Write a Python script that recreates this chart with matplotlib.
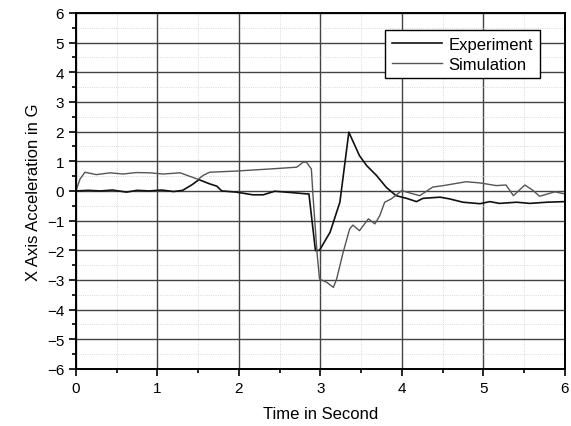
import matplotlib
matplotlib.use('Agg')
import matplotlib.pyplot as plt
from matplotlib.ticker import MultipleLocator

# Experiment trace (time in s, acceleration in G)
exp_t = [0.0, 0.15, 0.3, 0.45, 0.62, 0.75, 0.9, 1.05, 1.2, 1.31, 1.42, 1.51,
         1.64, 1.73, 1.79, 1.97, 2.17, 2.30, 2.44, 2.58, 2.71, 2.83, 2.86,
         2.94, 2.99, 3.12, 3.24, 3.35, 3.48, 3.57, 3.69, 3.81, 3.93, 4.06,
         4.18, 4.26, 4.47, 4.59, 4.75, 4.96, 5.08, 5.20, 5.41, 5.57, 5.78, 6.0]
exp_g = [0.0, 0.02, 0.0, 0.03, -0.04, 0.02, 0.0, 0.03, -0.02, 0.02, 0.2, 0.38,
         0.24, 0.16, 0.0, -0.04, -0.13, -0.13, -0.01, -0.04, -0.07, -0.1, -0.1,
         -2.01, -2.0, -1.39, -0.38, 1.98, 1.19, 0.85, 0.52, 0.12, -0.16, -0.25,
         -0.36, -0.25, -0.21, -0.27, -0.38, -0.43, -0.36, -0.42, -0.38, -0.42,
         -0.38, -0.36]

# Simulation trace
sim_t = [0.0, 0.05, 0.11, 0.25, 0.42, 0.58, 0.74, 0.91, 1.07, 1.28, 1.40, 1.50,
         1.56, 1.64, 1.97, 2.38, 2.71, 2.79, 2.83, 2.89, 2.91, 2.96, 2.99,
         3.08, 3.16, 3.20, 3.28, 3.36, 3.40, 3.48, 3.59, 3.67, 3.73, 3.79,
         3.87, 4.0, 4.14, 4.22, 4.38, 4.51, 4.79, 4.96, 5.16, 5.28, 5.37,
         5.51, 5.61, 5.69, 5.88, 6.0]
sim_g = [0.0, 0.4, 0.63, 0.55, 0.61, 0.57, 0.62, 0.61, 0.57, 0.61, 0.49, 0.39,
         0.52, 0.63, 0.67, 0.74, 0.8, 0.97, 0.97, 0.74, -0.16, -2.1, -2.97,
         -3.08, -3.25, -2.97, -2.07, -1.28, -1.15, -1.34, -0.94, -1.11, -0.83,
         -0.38, -0.27, 0.01, -0.1, -0.16, 0.13, 0.18, 0.31, 0.27, 0.18, 0.2,
         -0.16, 0.2, 0.02, -0.18, -0.03, -0.1]

plt.rcParams['font.family'] = ['Liberation Sans', 'DejaVu Sans']

fig = plt.figure(figsize=(5.71, 4.27), dpi=100)
ax = fig.add_axes([0.133, 0.1335, 0.856, 0.834])

ax.plot(exp_t, exp_g, color='#111111', lw=1.2, label='Experiment')
ax.plot(sim_t, sim_g, color='#555555', lw=1.0, label='Simulation')

ax.set_xlim(0, 6)
ax.set_ylim(-6, 6)
ax.xaxis.set_major_locator(MultipleLocator(1))
ax.xaxis.set_minor_locator(MultipleLocator(0.5))
ax.yaxis.set_major_locator(MultipleLocator(1))
ax.yaxis.set_minor_locator(MultipleLocator(0.5))

ax.grid(which='major', color='#444444', lw=1.0, ls='-')
ax.grid(which='minor', color='#cccccc', lw=0.6, ls=':')
ax.set_axisbelow(True)

ax.tick_params(which='both', direction='out', top=False, right=False,
               labelsize=11, width=1.2)
ax.tick_params(which='major', length=5)
ax.tick_params(which='minor', length=3)
for s in ax.spines.values():
    s.set_linewidth(1.4)

ax.set_xlabel('Time in Second', fontsize=12, labelpad=8)
ax.set_ylabel('X Axis Acceleration in G', fontsize=12, labelpad=4)

leg = ax.legend(loc='upper right', bbox_to_anchor=(0.966, 0.975), fontsize=12,
                frameon=True, fancybox=False, edgecolor='black',
                framealpha=1, borderpad=0.4, handlelength=3.0,
                handletextpad=0.4, labelspacing=0.3)
leg.get_frame().set_linewidth(1.0)

fig.savefig('out.png', dpi=100)
